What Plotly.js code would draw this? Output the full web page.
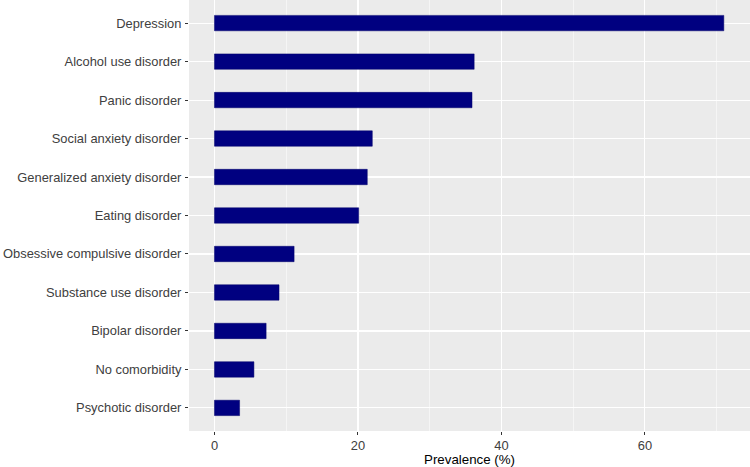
<!DOCTYPE html>
<html>
<head>
<meta charset="utf-8">
<script src="https://cdn.plot.ly/plotly-3.0.1.min.js"></script>
<style>
  html, body { margin: 0; padding: 0; background: #fff; }
  #chart { width: 750px; height: 467px; }
</style>
</head>
<body>
<div id="chart"></div>
<script>
// categories from top to bottom
var disorders = [
    'Depression',
    'Alcohol use disorder',
    'Panic disorder',
    'Social anxiety disorder',
    'Generalized anxiety disorder',
    'Eating disorder',
    'Obsessive compulsive disorder',
    'Substance use disorder',
    'Bipolar disorder',
    'No comorbidity',
    'Psychotic disorder'
];
var prevalence = [71.0, 36.2, 35.9, 22.0, 21.3, 20.1, 11.1, 9.0, 7.2, 5.5, 3.5];
var x_ticks = [0, 20, 40, 60];

var tick_font = {family: 'Liberation Sans, Arial, sans-serif', size: 12.9, color: '#404040'};

function on_start(){
    var chart = document.getElementById('chart');

    var data = [{
        type: 'bar',
        orientation: 'h',
        x: prevalence,
        y: disorders,
        width: 0.4,
        marker: {color: '#000080', line: {color: '#00006b', width: 0.5}},
        hoverinfo: 'x+y'
    }];

    var layout = {
        width: 750,
        height: 467,
        margin: {l: 189, r: 0, t: 0, b: 36, pad: 0},
        paper_bgcolor: '#ffffff',
        plot_bgcolor: '#ebebeb',
        showlegend: false,
        bargap: 0,
        xaxis: {
            range: [-3.55, 74.65],
            tickvals: x_ticks,
            ticktext: x_ticks.map(String),
            ticks: 'outside',
            ticklen: 3,
            tickwidth: 1,
            tickcolor: '#333333',
            tickfont: tick_font,
            ticklabelstandoff: 0,
            showgrid: true,
            gridcolor: '#ffffff',
            gridwidth: 1.1,
            minor: {tickvals: [10, 30, 50, 70], showgrid: true, gridcolor: '#ffffff', gridwidth: 0.5, ticks: ''},
            zeroline: false,
            showline: false,
            title: {text: 'Prevalence (%)', font: {family: 'Liberation Sans, Arial, sans-serif', size: 13.3, color: '#000000'}, standoff: 4}
        },
        yaxis: {
            type: 'category',
            categoryorder: 'array',
            categoryarray: disorders,
            range: [10.6, -0.6],
            ticks: 'outside',
            ticklen: 3,
            tickwidth: 1,
            tickcolor: '#333333',
            tickfont: tick_font,
            ticklabelstandoff: 1,
            showgrid: true,
            gridcolor: '#ffffff',
            gridwidth: 1.1,
            zeroline: false,
            showline: false
        }
    };

    Plotly.newPlot(chart, data, layout, {displayModeBar: false, staticPlot: true});
}

on_start();
</script>
</body>
</html>
